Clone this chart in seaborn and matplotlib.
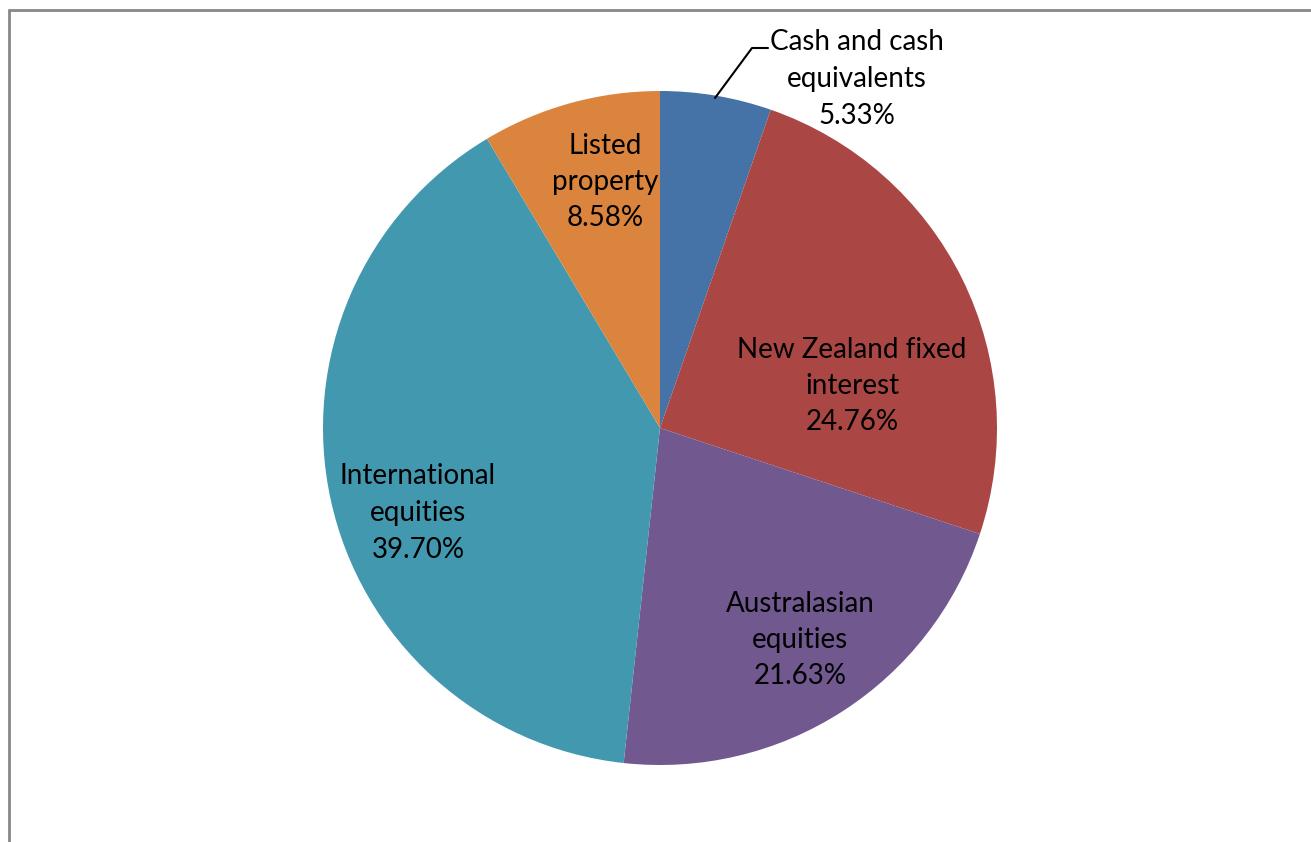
import numpy as np
import matplotlib
matplotlib.use("Agg")
import matplotlib.pyplot as plt
import seaborn as sns

# Data
categories = ["Cash and cash\nequivalents", "New Zealand fixed\ninterest",
              "Australasian\nequities", "International\nequities", "Listed\nproperty"]
shares = [5.33, 24.76, 21.63, 39.70, 8.58]
colors = ["#4572A7", "#AA4643", "#71588F", "#4198AF", "#DB843D"]

sns.set_theme(style="white")
plt.rcParams["font.family"] = ["Lato", "DejaVu Sans"]

W, H = 1311, 842
fig = plt.figure(figsize=(W / 100, H / 100), dpi=100)

# pie placement in pixels
cx, cy, r = 660, 428, 337
ax = fig.add_axes([(cx - r) / W, (H - cy - r) / H, 2 * r / W, 2 * r / H])
wedges, _ = ax.pie(shares, colors=colors, startangle=90, counterclock=False,
                   radius=1, wedgeprops=dict(linewidth=0))
ax.set_xlim(-1, 1)
ax.set_ylim(-1, 1)
ax.axis("off")

def to_data(px, py):
    return (px - cx) / r, (cy - py) / r

label_px = [(857, 79), (852, 386), (800, 640), (418, 513), (605, 182)]
for name, val, (px, py) in zip(categories, shares, label_px):
    x, y = to_data(px, py)
    ax.text(x, y, f"{name}\n{val:.2f}%", ha="center", va="center",
            fontsize=20, color="black", linespacing=1.5, clip_on=False)

# leader line for the small slice
pts = [to_data(715, 98), to_data(752, 48), to_data(768, 48)]
ax.plot([p[0] for p in pts], [p[1] for p in pts], color="black", lw=1.5,
        clip_on=False)

# chart frame (extends past the right and bottom edges)
fig.add_artist(plt.Line2D([8.5 / W, 1.0], [1 - 9.5 / H, 1 - 9.5 / H],
                          color="#888888", lw=2, transform=fig.transFigure))
fig.add_artist(plt.Line2D([8.5 / W, 8.5 / W], [0, 1 - 9.5 / H],
                          color="#888888", lw=2, transform=fig.transFigure))

fig.savefig("out.png", dpi=100, facecolor="white")
